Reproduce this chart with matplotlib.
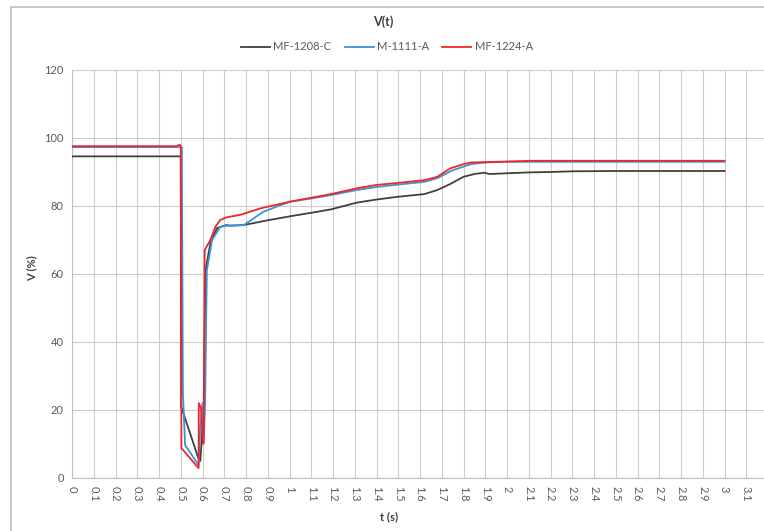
import matplotlib
matplotlib.use("Agg")
import matplotlib.pyplot as plt
from matplotlib.patches import Rectangle

plt.rcParams['font.family'] = ['Lato', 'DejaVu Sans']

title = "V(t)"
x_label = "t (s)"
y_label = "V (%)"
series_names = ["MF-1208-C", "M-1111-A", "MF-1224-A"]

t_black = [0, 0.50, 0.502, 0.58, 0.59, 0.605, 0.614, 0.636, 0.667, 0.71, 0.728, 0.79, 0.9,
           1.005, 1.1, 1.19, 1.31, 1.4, 1.496, 1.62, 1.68, 1.74, 1.80, 1.85, 1.895, 1.92,
           1.99, 2.11, 2.2, 2.3, 2.5, 2.7, 3.0]
v_black = [94.6, 94.6, 21, 6, 5, 20, 61, 69, 73.5, 74.4, 74.2, 74.4, 75.8,
           77, 78, 79, 81, 81.9, 82.7, 83.5, 84.7, 86.5, 88.6, 89.4, 89.8, 89.4,
           89.6, 89.9, 90.0, 90.2, 90.3, 90.3, 90.3]

t_blue = [0, 0.50, 0.505, 0.51, 0.52, 0.582, 0.59, 0.60, 0.606, 0.612, 0.62, 0.644, 0.682,
          0.71, 0.79, 0.88, 0.96, 1.005, 1.1, 1.19, 1.31, 1.4, 1.5, 1.62, 1.68, 1.75, 1.834,
          1.9, 2.0, 2.11, 2.5, 3.0]
v_blue = [97.3, 97.3, 97.3, 25, 9.7, 3.8, 15, 22, 12, 22, 61, 70, 73.9,
          74.2, 74.4, 78.3, 80.3, 81.3, 82.2, 83.2, 84.7, 85.6, 86.3, 87.1, 88.2, 90.5, 92.3,
          92.8, 93, 93, 93, 93]

t_red = [0, 0.48, 0.49, 0.495, 0.50, 0.503, 0.582, 0.583, 0.593, 0.603, 0.606, 0.61, 0.636,
         0.66, 0.682, 0.713, 0.774, 0.866, 1.005, 1.19, 1.31, 1.4, 1.5, 1.62, 1.68, 1.74,
         1.80, 1.834, 1.9, 2.11, 2.5, 3.0]
v_red = [97.6, 97.6, 97.9, 98.0, 97.6, 8.8, 2.9, 22, 20.6, 10, 10.5, 67, 70,
         74, 75.9, 76.7, 77.4, 79.3, 81.3, 83.5, 85.2, 86.2, 86.8, 87.6, 88.6, 91.1,
         92.3, 92.8, 92.9, 93.3, 93.3, 93.3]

x_ticks = [round(0.1 * i, 1) for i in range(33)]
x_tick_labels = ["0" if v == 0 else ("1" if v == 1 else ("2" if v == 2 else ("3" if v == 3 else f"{v:g}"))) for v in x_ticks]
y_ticks = [0, 20, 40, 60, 80, 100, 120]

W, H = 764, 531
fig = plt.figure(figsize=(W / 100, H / 100), dpi=100)
fig.patch.set_facecolor("white")

# outer chart frame
fig.patches.append(Rectangle((11 / W, -0.05), 1.2, 1 - 7 / H + 0.05, transform=fig.transFigure,
                             fill=False, edgecolor="#bdbdbd", linewidth=1.2))

left = 72 / W
right = (72 + 3.2 * 217.5) / W
bottom = 1 - 478 / H
top = 1 - 70 / H
ax = fig.add_axes([left, bottom, right - left, top - bottom])

colors = ["#404040", "#3a93d8", "#f02525"]
ax.plot(t_black, v_black, color=colors[0], lw=1.3, label=series_names[0], zorder=3)
ax.plot(t_blue, v_blue, color=colors[1], lw=1.3, label=series_names[1], zorder=4)
ax.plot(t_red, v_red, color=colors[2], lw=1.3, label=series_names[2], zorder=5)

ax.set_xlim(0, 3.2)
ax.set_ylim(0, 120)
ax.set_xticks(x_ticks)
ax.set_xticklabels(x_tick_labels, rotation=-90, fontsize=8, color="#595959")
ax.set_yticks(y_ticks)
ax.set_yticklabels([str(v) for v in y_ticks], fontsize=8, color="#595959")
ax.tick_params(axis="both", length=0, pad=6)
ax.grid(True, color="#cccccc", linewidth=0.8)
ax.set_axisbelow(True)
for s in ["top", "right"]:
    ax.spines[s].set_visible(False)
for s in ["left", "bottom"]:
    ax.spines[s].set_color("#bfbfbf")
    ax.spines[s].set_linewidth(0.8)

fig.text(383 / W, 1 - 22 / H, title, ha="center", va="center", fontsize=9, fontweight="bold", color="#404040")
fig.text(389 / W, 1 - 517 / H, x_label, ha="center", va="center", fontsize=8, fontweight="bold", color="#404040")
fig.text(32 / W, 1 - 268 / H, y_label, ha="center", va="center", rotation=90, fontsize=8, fontweight="bold", color="#404040")

leg = fig.legend(loc="center", bbox_to_anchor=(387 / W, 1 - 47 / H), ncol=3, frameon=False,
                 fontsize=8, handlelength=2.6, columnspacing=1.2, handletextpad=0.3)
for txt in leg.get_texts():
    txt.set_color("#595959")

fig.savefig("out.png", dpi=100)
